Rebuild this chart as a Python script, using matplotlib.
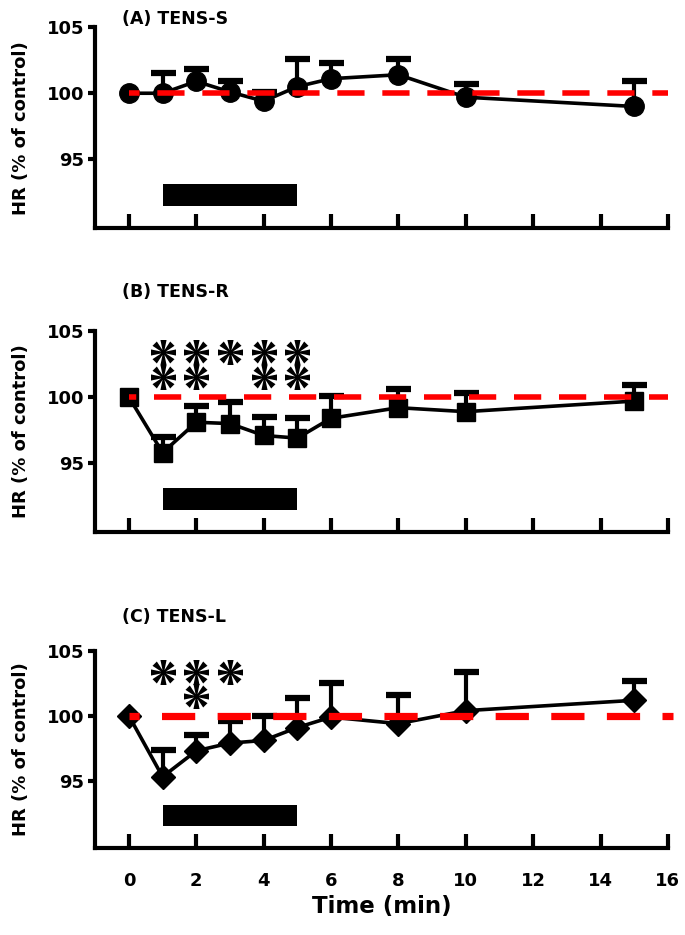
import numpy as np
import matplotlib
matplotlib.use('Agg')
import matplotlib.pyplot as plt

# tempo (min) dos pontos medidos
tempo = [0, 1, 2, 3, 4, 5, 6, 8, 10, 15]

# (A) TENS-S  (media e limite superior do erro; nan = sem barra)
hr_s = [100.0, 100.0, 100.9, 100.1, 99.4, 100.5, 101.1, 101.4, 99.7, 99.0]
sup_s = [np.nan, 101.5, 101.8, 100.9, 100.1, 102.6, 102.3, 102.6, 100.7, 100.9]

# (B) TENS-R
hr_r = [100.0, 95.8, 98.1, 98.0, 97.1, 96.9, 98.4, 99.2, 98.9, 99.7]
sup_r = [np.nan, 97.0, 99.3, 99.6, 98.5, 98.4, 100.1, 100.6, 100.3, 100.9]

# (C) TENS-L
hr_l = [100.0, 95.3, 97.3, 97.9, 98.1, 99.1, 99.9, 99.4, 100.4, 101.2]
sup_l = [np.nan, 97.4, 98.5, 99.6, 100.0, 101.4, 102.5, 101.6, 103.4, 102.7]

# asteriscos de significancia (x, y)
ast_r_x = [1, 2, 3, 4, 5, 1, 2, 4, 5]
ast_r_y = [103.4, 103.4, 103.4, 103.4, 103.4, 101.5, 101.5, 101.5, 101.5]
ast_l_x = [1, 2, 3, 2]
ast_l_y = [103.4, 103.4, 103.4, 101.5]

# periodo de estimulacao
estim_ini, estim_fim = 1, 5
estim_y0, estim_y1 = 91.5, 93.1

paineis = [
    ('(A) TENS-S', hr_s, sup_s, 'o', 14, [], []),
    ('(B) TENS-R', hr_r, sup_r, 's', 12.5, ast_r_x, ast_r_y),
    ('(C) TENS-L', hr_l, sup_l, 'D', 12.5, ast_l_x, ast_l_y),
]

# posicao dos eixos, do titulo e estilo da linha vermelha de cada painel
posicoes = [[0.139, 0.756, 0.836, 0.215],
            [0.139, 0.431, 0.836, 0.215],
            [0.139, 0.093, 0.836, 0.2107]]
pos_titulo = [0.9743, 0.6824, 0.3348]
linha_vermelha = [(16.0, 4.0, (3.0, (4.9, 3.2))),
                  (16.0, 4.0, (3.6, (4.9, 3.2))),
                  (16.14, 5.2, (3.2, (4.6, 3.1)))]

# marcador de asterisco com 8 bracos afinando para o centro
verts = []
for k in range(8):
    a = np.deg2rad(k * 45 + 90)
    verts.append((np.cos(a - 0.24), np.sin(a - 0.24)))
    verts.append((np.cos(a + 0.24), np.sin(a + 0.24)))
    verts.append((0.2 * np.cos(a + 0.39), 0.2 * np.sin(a + 0.39)))
verts.append(verts[0])

fonte = 'DejaVu Sans'
fig = plt.figure(figsize=(6.85, 9.35), dpi=100)

for (titulo, hr, sup, mk, ms, ax_x, ax_y), pos, yt, (xfim, lwv, estilo) in zip(
        paineis, posicoes, pos_titulo, linha_vermelha):
    ax = fig.add_axes(pos)
    ax.vlines(tempo, hr, sup, color='black', lw=3, zorder=2)
    ax.plot(tempo, sup, ls='none', marker='_', ms=18, mew=4.5, color='black',
            zorder=2)
    ax.plot(tempo, hr, color='black', lw=2.6, marker=mk, ms=ms, zorder=3)
    ax.plot([0, xfim], [100, 100], color='red', lw=lwv, ls=estilo, zorder=4,
            clip_on=False, dash_capstyle='butt')
    ax.fill_between([estim_ini, estim_fim], estim_y0, estim_y1, color='black',
                    lw=0, zorder=2)
    if ax_x:
        ax.plot(ax_x, ax_y, ls='none', marker=verts, ms=18, mew=0,
                color='black', zorder=5)

    ax.set_xlim(-1, 16)
    ax.set_ylim(89.8, 105)
    ax.set_yticks([95, 100, 105])
    ax.set_xticks(range(0, 17, 2))
    for s in ['top', 'right']:
        ax.spines[s].set_visible(False)
    ax.spines['left'].set_linewidth(3)
    ax.spines['bottom'].set_linewidth(3)
    ax.tick_params(axis='y', direction='out', length=5, width=3,
                   labelsize=13, pad=3)
    ax.tick_params(axis='x', direction='in', length=10, width=3,
                   labelsize=13, pad=17)
    for lab in ax.get_xticklabels() + ax.get_yticklabels():
        lab.set_fontweight('bold')
        lab.set_family(fonte)
    if titulo != '(C) TENS-L':
        ax.set_xticklabels([])
    ax.set_ylabel('HR (% of control)', fontsize=13, fontweight='bold',
                  family=fonte, labelpad=12)
    fig.text(0.178, yt, titulo, fontsize=12.5, fontweight='bold',
             family=fonte, va='baseline')

ax.set_xlabel('Time (min)', fontsize=16.5, fontweight='bold', family=fonte,
              labelpad=4)

fig.savefig('out.png', dpi=100)
